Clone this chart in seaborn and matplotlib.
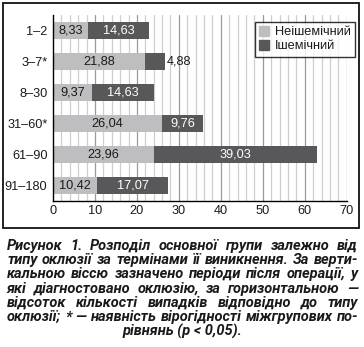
import matplotlib
matplotlib.use("Agg")
import matplotlib.pyplot as plt
import matplotlib.patches as mpatches
from matplotlib.lines import Line2D
import seaborn as sns
import pandas as pd
import numpy as np

periods = ["1–2", "3–7*", "8–30", "31–60*", "61–90", "91–180"]
non_ischemic = [8.33, 21.88, 9.37, 26.04, 23.96, 10.42]
ischemic = [14.63, 4.88, 14.63, 9.76, 39.03, 17.07]
series_names = ["Неішемічний", "Ішемічний"]
x_ticks = [0, 10, 20, 30, 40, 50, 60, 70]
caption_lines = [
    "Рисунок 1. Розподіл основної групи залежно від",
    "типу оклюзії за термінами її виникнення. За верти-",
    "кальною віссю зазначено періоди після операції, у",
    "які діагностовано оклюзію, за горизонтальною —",
    "відсоток кількості випадків відповідно до типу",
    "оклюзії; * — наявність вірогідності міжгрупових по-",
    "рівнянь (p < 0,05).",
]

LIGHT = "#bebec0"
DARK = "#58585a"
TXT = "#1a1a1a"

sns.set_theme(style="white")
plt.rcParams["font.family"] = ["Liberation Sans", "DejaVu Sans"]

W, H = 364, 347
fig = plt.figure(figsize=(W / 100, H / 100), dpi=100)
ax = fig.add_axes([53 / W, 1 - 200.7 / H, (346.7 - 53) / W, (200.7 - 15) / H])

df = pd.DataFrame({"period": periods, "a": non_ischemic, "b": ischemic})
df["total"] = df["a"] + df["b"]

sns.barplot(data=df, y="period", x="total", orient="h", color=DARK,
            saturation=1, width=0.56, ax=ax, zorder=3, linewidth=0)
sns.barplot(data=df, y="period", x="a", orient="h", color=LIGHT,
            saturation=1, width=0.56, ax=ax, zorder=3, linewidth=0)

ax.set_xlim(0, 70)
ax.set_ylim(5.5, -0.5)
ax.set_xlabel("")
ax.set_ylabel("")
ax.set_xticks(x_ticks)
ax.set_xticklabels([str(t) for t in x_ticks])
ax.tick_params(axis="both", length=0, labelsize=9.2, colors=TXT)
ax.tick_params(axis="y", pad=4)
ax.tick_params(axis="x", pad=3)

# grid lines
for gx in np.arange(2, 71, 2):
    major = (gx % 10 == 0)
    ax.axvline(gx, color="#9a9a9a" if major else "#cfcfcf", lw=0.9, zorder=1)

for s in ["top", "right"]:
    ax.spines[s].set_visible(False)
for s in ["left", "bottom"]:
    ax.spines[s].set_color("black")
    ax.spines[s].set_linewidth(1.0)
    ax.spines[s].set_zorder(5)

def fmt(v):
    return f"{v:.2f}".replace(".", ",")

for i, (a, b) in enumerate(zip(non_ischemic, ischemic)):
    ax.text(a / 2, i, fmt(a), ha="center", va="center", fontsize=9.2, color=TXT, zorder=6)
    if b > 6:
        ax.text(a + b / 2, i, fmt(b), ha="center", va="center", fontsize=9.2, color="white", zorder=6)
    else:
        ax.text(a + b + 0.3, i, fmt(b), ha="left", va="center", fontsize=9.2, color=TXT, zorder=6)

handles = [Line2D([0], [0], marker="s", ls="", color=LIGHT, markersize=7),
           Line2D([0], [0], marker="s", ls="", color=DARK, markersize=7)]
leg = fig.legend(handles, series_names, loc="upper right",
                 bbox_to_anchor=(355 / W, 1 - 22 / H), fontsize=9.2,
                 frameon=True, fancybox=False, handlelength=0.8,
                 handletextpad=0.4, borderpad=0.35, labelspacing=0.15,
                 borderaxespad=0)
leg.get_frame().set_edgecolor("black")
leg.get_frame().set_linewidth(1.0)
for t in leg.get_texts():
    t.set_color(TXT)

# outer frame
fig.patches.append(mpatches.Rectangle((3 / W, 1 - 228 / H), (358.5 - 3) / W, (228 - 3) / H,
                                      transform=fig.transFigure, fill=False,
                                      edgecolor="#111111", lw=1.3))

# justified caption
renderer = fig.canvas.get_renderer()
left_px, right_px = 7.0, 358.0
avail = right_px - left_px
cap_kw = dict(fontweight="bold", fontstyle="italic", color=TXT,
              family=["Roboto", "Liberation Sans", "DejaVu Sans"])

def word_widths(words, size):
    ws = []
    for w in words:
        t = fig.text(0, 0, w, fontsize=size, **cap_kw)
        ws.append(t.get_window_extent(renderer).width)
        t.remove()
    return ws

size = 10.5
min_gap = 2.8
for line in caption_lines[:-1]:
    words = line.split(" ")
    ws = word_widths(words, 10.0)
    need = sum(ws) * size / 10.0 + min_gap * (len(words) - 1)
    if need > avail:
        size = min(size, 10.0 * (avail - min_gap * (len(words) - 1)) / sum(ws))

y0, dy = 245.7, 14.33
for k, line in enumerate(caption_lines):
    ypx = y0 + k * dy
    yf = 1 - ypx / H
    if k == len(caption_lines) - 1:
        fig.text((left_px + right_px) / 2 / W, yf, line, fontsize=size,
                 ha="center", va="center", **cap_kw)
        continue
    words = line.split(" ")
    ws = word_widths(words, size)
    gap = (avail - sum(ws)) / (len(words) - 1)
    x = left_px
    for w, wd in zip(words, ws):
        fig.text(x / W, yf, w, fontsize=size, ha="left", va="center", **cap_kw)
        x += wd + gap

fig.savefig("out.png", dpi=100, facecolor="white")
